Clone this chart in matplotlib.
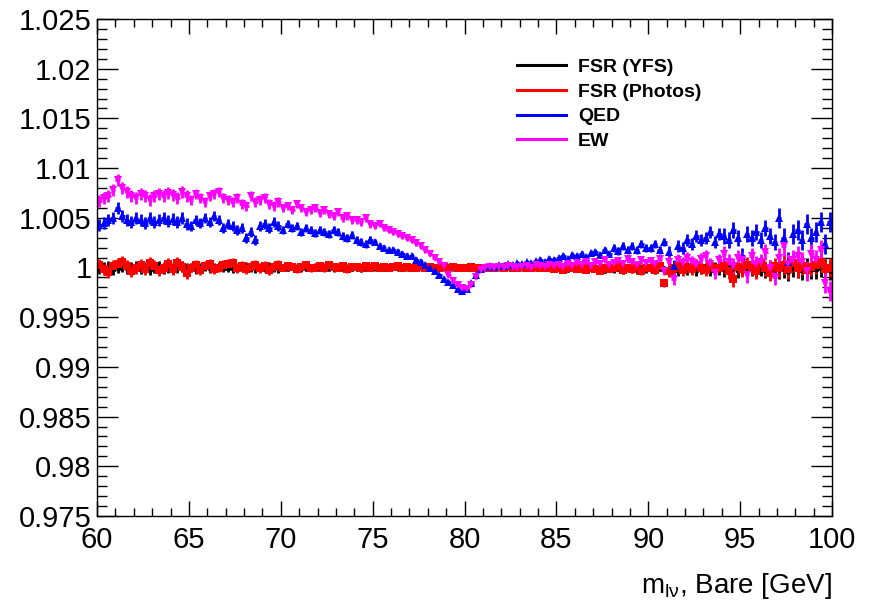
import numpy as np
import matplotlib
matplotlib.use("Agg")
import matplotlib.pyplot as plt
from matplotlib.lines import Line2D
from matplotlib.ticker import MultipleLocator, FuncFormatter

plt.rcParams["font.family"] = ["Liberation Sans", "DejaVu Sans"]
plt.rcParams["mathtext.fontset"] = "custom"
plt.rcParams["mathtext.rm"] = "Liberation Sans"
plt.rcParams["mathtext.it"] = "Liberation Sans:italic"

# m_lv binning: 160 bins of 0.25 GeV between 60 and 100
mass_lo, mass_hi, bin_width = 60.0, 100.0, 0.25

# ratios to nominal, stored as (ratio - 1) * 1e4, one row = 5 GeV (20 bins)
fsr_yfs = [
    -1, 0, 1, -2, 0, 1, -1, 0, 1, -1, 0, -2, 0, 1, -1, 0, -1, 0, 1, -1,
    0, -2, 0, 1, -1, 0, 1, 0, 0, -1, 0, 1, 1, 0, -1, 0, 0, 1, 0, -1,
    0, 0, 1, 0, -1, 0, 0, 1, 0, 1, 0, -1, 1, 0, 0, 0, 0, -1, 0, 1,
    0, 0, -1, 0, 1, 0, 0, 0, 0, 0, 1, -1, 0, 1, 0, 0, 0, 0, 0, 1,
    0, 0, 1, 0, 0, 0, 0, -1, 0, 1, 0, 0, -1, 0, 0, 0, 0, -1, 0, -1,
    -1, 0, -2, 0, -1, -2, 0, -1, -2, -1, -3, -1, -2, 0, -3, -1, -2, -3, -1, -2,
    -1, -3, 0, -2, -2, -1, -3, 0, -2, 0, -3, -1, -1, -3, 0, -2, -2, 0, -1, -3,
    0, -2, -1, -2, -1, -3, 0, -2, -2, -1, -4, 0, -1, -3, 0, -2, -2, 0, -1, -3,
]
fsr_photos = [
    3, -2, -5, 2, 4, 6, 2, -4, -1, 3, -2, 5, 2, -3, 0, 4, -2, 5, 1, -6,
    0, 3, -3, 2, 4, -2, 0, 3, 4, 5, -1, 2, -2, 1, 3, -1, 2, -3, 1, 3,
    0, 2, 1, -2, 1, 3, -1, 0, 2, -1, 3, 1, 0, 2, -2, 1, 1, -1, 2, 0,
    2, 0, 1, -1, 1, 2, 0, 1, 0, -1, 1, 0, 1, 0, -1, 1, 0, 1, 0, -1,
    0, 1, 0, 0, 0, -1, 0, 1, 0, 1, -1, 0, 1, 0, -1, 1, 0, -1, 1, -2,
    0, -3, -1, 1, -2, 0, -3, 1, -2, -4, 0, -2, -1, 2, -3, 0, -2, 1, -4, -1,
    0, -3, 2, -16, -4, 0, 2, -3, 1, -2, 3, -1, -3, 2, -1, 0, 2, -4, -12, 1,
    -2, 3, 0, -4, 4, -1, -6, 2, 0, 3, -2, 5, -1, 2, -3, 1, 3, 6, -2, 0,
]
qed = [
    43, 45, 48, 50, 60, 52, 48, 46, 50, 48, 45, 50, 46, 48, 50, 47, 49, 46, 50, 44,
    42, 48, 45, 50, 46, 52, 48, 40, 44, 42, 38, 40, 30, 36, 28, 42, 44, 40, 46, 42,
    38, 44, 40, 42, 36, 40, 38, 35, 38, 36, 34, 38, 36, 32, 30, 33, 28, 26, 24, 28,
    26, 22, 20, 18, 18, 16, 14, 12, 12, 8, 6, 3, 0, -4, -8, -12, -15, -18, -22, -24,
    -22, -16, -8, -2, 1, 2, 1, 3, 2, 4, 3, 5, 4, 6, 5, 7, 8, 6, 9, 8,
    10, 12, 9, 13, 12, 14, 11, 15, 16, 13, 18, 14, 20, 17, 22, 18, 22, 18, 24, 20,
    20, 24, 18, 26, 16, 2, 22, 20, 28, 24, 32, 28, 30, 36, 26, 34, 32, 28, 38, 30,
    12, 34, 30, 36, 28, 40, 32, 26, 50, 30, 6, 34, 38, 28, 44, 30, 36, 46, 24, 46,
]
ew = [
    67, 70, 72, 78, 88, 80, 76, 72, 70, 74, 72, 68, 72, 74, 72, 75, 73, 70, 76, 72,
    68, 74, 70, 66, 72, 74, 76, 70, 68, 66, 70, 64, 62, 72, 66, 68, 70, 64, 62, 66,
    60, 62, 58, 64, 60, 56, 58, 60, 55, 58, 54, 52, 56, 50, 52, 48, 48, 46, 50, 44,
    42, 44, 40, 38, 36, 34, 32, 30, 28, 25, 22, 18, 14, 10, 6, 2, -8, -14, -18, -21,
    -22, -18, -10, -3, 0, 1, 0, 1, 0, 2, 1, 0, 1, 2, 0, 3, 2, 1, 3, 2,
    3, 1, 4, 2, 5, 3, 6, 2, 6, 4, 8, 3, 5, 7, 4, 9, 6, 3, 8, 5,
    7, 4, 9, -4, 6, -12, 8, 5, 10, 6, 3, 9, 12, 4, -6, 8, 14, 6, 2, 10,
    8, -8, 12, 4, 6, 16, 0, -10, 10, 22, 4, 8, 12, 6, -4, 14, 8, 18, -16, -24,
]
# statistical uncertainty, same units
stat_err = [
    6, 6, 6, 6, 6, 6, 6, 6, 6, 6, 6, 6, 6, 6, 6, 6, 6, 6, 6, 6,
    5, 5, 5, 5, 5, 5, 5, 5, 5, 5, 5, 5, 5, 5, 5, 5, 5, 5, 5, 5,
    4, 4, 4, 4, 4, 4, 4, 4, 4, 4, 4, 4, 4, 4, 4, 4, 4, 4, 4, 4,
    3, 3, 3, 3, 3, 3, 3, 3, 3, 3, 3, 3, 2, 2, 2, 2, 2, 2, 2, 2,
    2, 2, 2, 2, 2, 2, 2, 2, 2, 2, 2, 2, 2, 2, 2, 2, 3, 3, 3, 3,
    3, 3, 3, 3, 3, 3, 3, 3, 3, 3, 3, 3, 4, 4, 4, 4, 4, 4, 4, 4,
    4, 4, 4, 4, 6, 6, 6, 6, 6, 6, 6, 6, 6, 6, 6, 6, 8, 8, 8, 8,
    8, 8, 8, 8, 8, 8, 8, 8, 10, 10, 10, 10, 10, 10, 10, 10, 10, 10, 10, 10,
]

series = [
    ("FSR (YFS)", fsr_yfs, "black", "o", 4.5),
    ("FSR (Photos)", fsr_photos, "red", "s", 5.5),
    ("QED", qed, "blue", "^", 5.5),
    ("EW", ew, "magenta", "v", 5.5),
]

fig = plt.figure(figsize=(8.73, 6.04), dpi=100)
ax = fig.add_axes([97 / 873, 1 - 516 / 604, (832 - 97) / 873, (516 - 19) / 604])

x = np.arange(mass_lo + bin_width / 2, mass_hi, bin_width)
err = np.array(stat_err) * 1e-4
for label, dev, color, marker, ms in series:
    ax.errorbar(x, 1 + np.array(dev) * 1e-4, xerr=bin_width / 2, yerr=err,
                fmt=marker, color=color, ms=ms, mew=0, elinewidth=2,
                capsize=0, clip_on=True)

ax.set_xlim(mass_lo, mass_hi)
ax.set_ylim(0.975, 1.025)
ax.xaxis.set_major_locator(MultipleLocator(5))
ax.xaxis.set_minor_locator(MultipleLocator(1))
ax.yaxis.set_major_locator(MultipleLocator(0.005))
ax.yaxis.set_minor_locator(MultipleLocator(0.001))
ax.yaxis.set_major_formatter(FuncFormatter(lambda v, p: f"{round(v, 4):g}"))
ax.tick_params(which="both", direction="in", top=True, right=True,
               labelsize=21, width=1)
ax.tick_params(axis="x", which="major", length=11, pad=7.5)
ax.tick_params(axis="x", which="minor", length=5.5)
ax.tick_params(axis="y", which="major", length=15, pad=4)
ax.tick_params(axis="y", which="minor", length=7.5)
for s in ax.spines.values():
    s.set_linewidth(1)

ax.set_xlabel(r"$\mathregular{m_{l\nu}}$, Bare [GeV]", fontsize=20,
              loc="right", labelpad=12)

handles = [Line2D([], [], color=c, lw=2.2) for _, _, c, _, _ in series]
ax.legend(handles, [s[0] for s in series], loc="upper left",
          bbox_to_anchor=(0.571, 0.921), frameon=False, borderpad=0,
          borderaxespad=0, handlelength=2.55, handletextpad=0.6,
          labelspacing=0.37, prop={"size": 14, "weight": "bold"})

fig.savefig("out.png", dpi=100)
